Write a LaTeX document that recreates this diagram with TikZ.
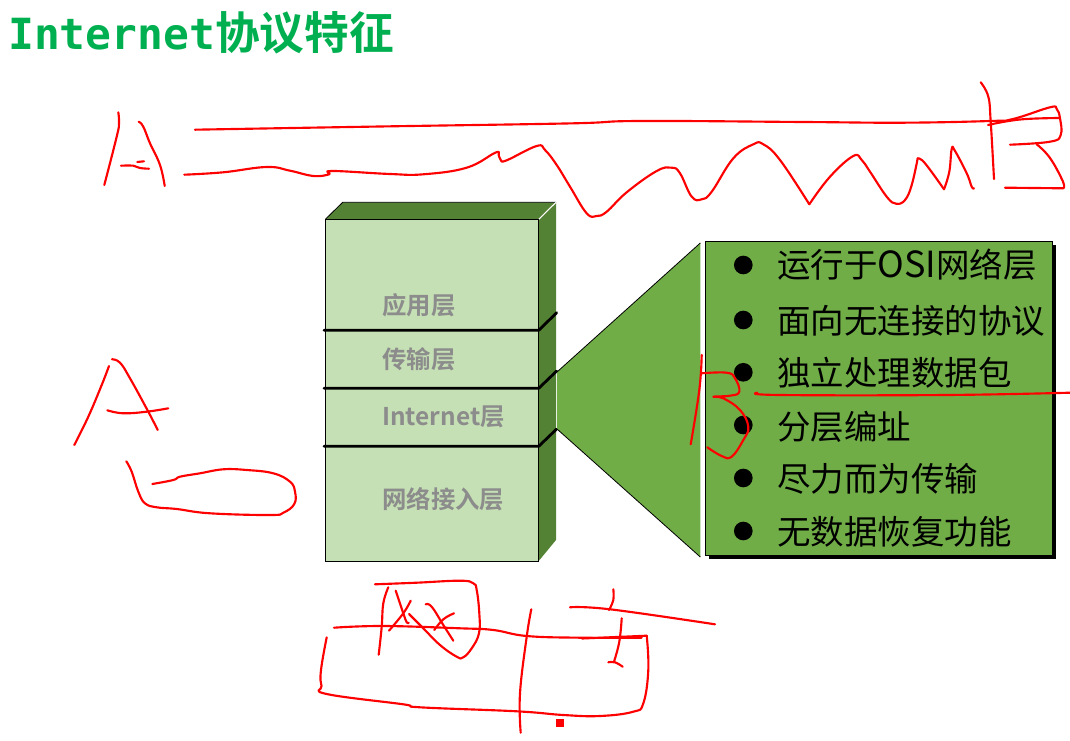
\documentclass[tikz,border=0pt]{standalone}
\usepackage{fontspec}
\setmainfont{Liberation Sans}
\newfontfamily\cjk{Noto Sans CJK SC}
\newfontfamily\cjkb{Noto Sans CJK SC Bold}
\newfontfamily\titlelat{DejaVu Sans Mono Bold}
\definecolor{titlegreen}{HTML}{00B050}
\definecolor{darkgreen}{HTML}{548235}
\definecolor{midgreen}{HTML}{70AD47}
\definecolor{palegreen}{HTML}{C5E0B4}
\definecolor{labelgrey}{HTML}{8C8C8C}
\definecolor{inkred}{HTML}{FF0000}
\tikzset{
  ink/.style={draw=inkred,line width=1.6pt,line cap=round,line join=round},
  layerlabel/.style={anchor=west,inner sep=0pt,text=labelgrey,font=\cjkb\fontsize{18.3}{20}\selectfont},
  listlabel/.style={anchor=west,inner sep=0pt,text=black,font=\cjk\fontsize{25.1}{28}\selectfont},
  bulletdot/.style={fill=black,circle,inner sep=0pt,minimum size=14pt},
  layerline/.style={draw=black,line width=2.1pt,line cap=round,line join=round},
  faceline/.style={draw=black,line width=0.6pt},
}
\newcommand{\inkline}[1]{\draw[ink] plot[smooth,tension=0.7] coordinates {#1};}
\begin{document}
\begin{tikzpicture}[x=0.75pt,y=-0.75pt]
\useasboundingbox (0,0) rectangle (1070,741);
% title
\node[anchor=west,inner sep=0pt,text=titlegreen] (title) at (8,33)
  {\titlelat\fontsize{32.2}{34}\selectfont Internet{\cjkb\fontsize{33.5}{36}\selectfont 协议特征}};
% cube
\fill[darkgreen] (325.3,219.3) -- (342.7,202.3) -- (556,202.3) -- (538.7,219.3) -- cycle;
\draw[faceline] (325.3,219.3) -- (342.7,202.3) -- (556,202.3);
\fill[darkgreen] (538.7,219.3) -- (556,202.3) -- (556,540) -- (538.7,561) -- cycle;
\draw[white,line width=0.8pt] (538.7,219.3) -- (556,202.3);
\draw[faceline,fill=palegreen] (325.3,219.3) rectangle (538.7,561);
% layer lines
\draw[layerline] (324,330.3) -- (538.7,330.3) -- (556.7,312.7);
\draw[layerline] (324,388.3) -- (538.7,388.3) -- (556.7,371);
\draw[layerline] (324,446.3) -- (538.7,446.3) -- (556.7,429);
% layer labels
\node[layerlabel] (l1) at (382,305) {应用层};
\node[layerlabel] (l2) at (382,359.3) {传输层};
\node[layerlabel] (l3) at (382,416.7) {Internet层};
\node[layerlabel] (l4) at (382,499) {网络接入层};
% trapezoid
\fill[midgreen] (557,372) -- (700.3,243) -- (700.3,557) -- (557,429) -- cycle;
\draw[faceline] (557,372) -- (700.3,243);
\draw[faceline] (557,429) -- (700.3,557);
% list box
\fill[black] (708.5,245) rectangle (1055.7,559);
\draw[faceline,fill=midgreen] (705.3,241.7) rectangle (1052.3,555.7);
\foreach \n/\y in {a/265,b/320,c/372.3,d/425,e/478,f/531}
  \node[bulletdot] (dot\n) at (743.3,\y) {};
\node[listlabel] (ta) at (777,265) {运行于{\fontsize{27}{28}\selectfont OSI}网络层};
\node[listlabel] (tb) at (777,320.5) {面向无连接的协议};
\node[listlabel] (tc) at (777,373) {独立处理数据包};
\node[listlabel] (td) at (777,426.7) {分层编址};
\node[listlabel] (te) at (777,478.5) {尽力而为传输};
\node[listlabel] (tf) at (777,532) {无数据恢复功能};
% --- red ink, top
\inkline{(118.3,112.3)(119,123.3)(116.7,136.7)(104.3,185)}
\inkline{(138.7,121.7)(143.3,126.7)(150,143.3)(160,165)(164.7,186)}
\inkline{(121,165.7)(133.3,165.7)(140,168)(149,168.7)}
\inkline{(137.3,162)(144,161.3)}
\inkline{(195,129.7)(380,126.5)(570,123.4)(640,121)(803,122)(903,122.7)(990,121)(1013,119)(1050,107.3)(1056.7,109)(1060,118.3)(1060.7,135)(1050,141.7)(1010,144.7)}
\inkline{(988,125)(1020,119.5)(1060,118)}
\inkline{(980.7,82.3)(988.3,96.7)(990.7,121.7)(994,179)}
\inkline{(1036.7,144.3)(1050,158)(1063,181.7)(1063.3,188.3)}
\draw[ink] (1063.3,188.3) -- (1005,187.7);
% wavy line
\inkline{(184.3,174.7)(223.3,172.3)(266.7,167)(290,170.7)(313.3,176)(329.3,174.3)(332.3,171)(390,174)(423.3,174.3)(466.7,167.7)(495.3,152.7)(498.7,155)(500.7,160)(506.7,160.3)(536.7,146)(545,150)(556.7,165)(570,186.7)(586.7,213.3)(596.7,216)(606.7,211.7)(626.7,192.3)(656.7,171)(671.7,167.7)(680,173.3)(691.7,196.7)(701.7,199.3)(711.7,191.7)(733.3,158.3)(753.3,144.3)(763.3,144.3)(780,160)(809.3,204.3)}
\inkline{(809.3,204.3)(830,176.7)(853.3,156)(861.7,160)(870,171.7)(886.7,196.7)(896,203.7)(905,200)(911.7,185)(917.7,158.3)}
\inkline{(917.7,158.3)(925,163.3)(944,189.3)}
\inkline{(944,189.3)(949.3,171.7)(951.7,149)(955,151)(966.7,173.3)(971.7,186.7)(974,188.3)}
% B on list
\inkline{(701.7,355)(699.3,390)(690.7,444.3)}
\inkline{(701.7,373.3)(726.7,372.7)(735,378.3)(739.3,391.7)(730,395.7)(713.3,396.7)(723.3,398.3)(740,410)(748.3,426.7)(743.3,440)(731.7,456.7)(721.7,456)(707.3,447.3)}
\inkline{(757.3,392.7)(780,395)(946.7,395)(1070,392.7)}
% A left middle
\inkline{(109,366)(101.7,385)(88.3,416.7)(74.3,445)}
\inkline{(112,359.3)(120,362.7)(130,378.3)(148.3,411.7)(157.7,430)}
\inkline{(107.3,410.3)(123.3,413.3)(146.7,411.7)(168.3,408.3)}
\inkline{(126.3,461.3)(131.7,471.7)(138.3,491.7)(145,503.3)(156.7,507.3)(176.7,509)(210,513.3)(270,515)(283.3,512.7)(294.3,504)(295,491.7)(290,481.7)(273.3,473.3)(246.7,470)(223.3,469.3)(200,473.3)(180,476.7)(173.3,480)(152.3,484)}
% bottom
\inkline{(375,584.3)(416.7,582.7)(460,580.7)(473.3,583.3)(476.7,590)(479.3,613.3)(479,633.3)(471.7,648.3)(463.3,657.3)(456.7,656.7)(440,645)(423.3,628.3)(409,614)}
\inkline{(388.3,587.3)(383.3,603.3)(381.7,626.7)(378.7,654.7)}
\inkline{(395.7,590.7)(403.3,613.3)(406.7,622.3)(408.7,622.7)}
\inkline{(410.7,600.7)(403.3,613.3)(389,630.7)}
\inkline{(425.7,604.3)(431.7,606.7)(443.3,625)(453.3,640.7)}
\inkline{(454,613.3)(443.3,619.3)(434.3,630)}
\inkline{(334,627.7)(383.3,626)(460,628.3)(493.3,630)(526.7,636)(580,637.7)(641.7,637.7)}
\inkline{(582,638.5)(646.7,635.7)}
\inkline{(646.7,635.7)(648.3,670)(643.3,703.3)(633.3,711.7)(600,716)(563.3,715)(516.7,711.3)(420,707.3)(403.3,704.3)(326.7,694)(321.5,686)(321,670)(326.7,637.3)}
\inkline{(531.3,609.3)(526.7,636.7)(520,693.3)(520.7,732.7)}
\inkline{(613.3,589.3)(613.3,600)(609,610)}
\inkline{(570,607.3)(610,609.3)(715,624.3)}
\inkline{(621.7,618.3)(619.3,641.7)(614,661.7)}
\inkline{(608.3,662.3)(615,662.3)(622.7,666.7)}
\fill[inkred] (556,719) rectangle (564,727);
\end{tikzpicture}
\end{document}
